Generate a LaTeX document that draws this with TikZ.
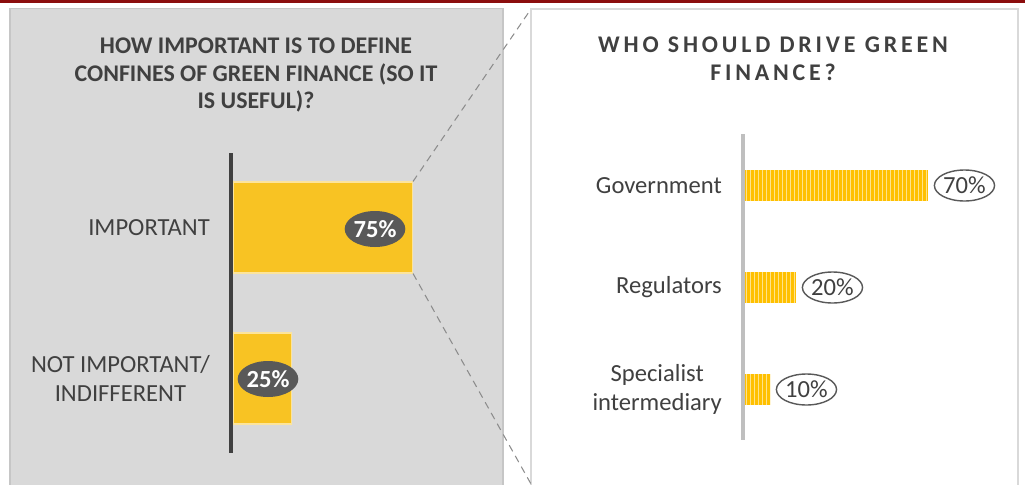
\documentclass[tikz,border=0pt]{standalone}
\usepackage{fontspec}
\setmainfont{Carlito}
\usepackage{tikz}
\usetikzlibrary{positioning, shapes.geometric, calc}
\definecolor{darkred}{HTML}{8B0D0D}
\definecolor{panelgray}{HTML}{D9D9D9}
\definecolor{edgegray}{HTML}{C6C6C6}
\definecolor{textgray}{HTML}{404040}
\definecolor{tagdark}{HTML}{595959}
\definecolor{bargold}{HTML}{F8C323}
\definecolor{baryellow}{HTML}{FFC000}
\definecolor{stripeyellow}{HTML}{FFE38A}
\definecolor{axisgray}{HTML}{BFBFBF}

\tikzset{
  txt/.style={font=\fontsize{14}{16.5}\selectfont, text=textgray},
  lbar/.style={fill=bargold, draw=bargold!45!white, line width=0.6pt,
    minimum height=1.82cm, inner sep=0pt, anchor=west},
  rbar/.style={fill=baryellow, minimum height=0.62cm, inner sep=0pt, anchor=west,
    path picture={\foreach \s in {0.03,0.11,...,4}
      \draw[stripeyellow, line width=0.5pt]
      ([xshift=\s cm]path picture bounding box.south west) --
      ([xshift=\s cm]path picture bounding box.north west);}},
  darktag/.style={ellipse, fill=tagdark, text=white,
    font=\fontsize{14}{16.5}\selectfont\bfseries,
    minimum width=1.16cm, minimum height=0.72cm, inner sep=0pt},
  opentag/.style={ellipse, draw=tagdark, line width=0.8pt, fill=white, txt,
    minimum width=1.04cm, minimum height=0.62cm, inner sep=0pt},
  zoomline/.style={draw=gray!90, dash pattern=on 4pt off 3pt, line width=0.6pt}
}

\begin{document}
\begin{tikzpicture}[x=0.02cm, y=-0.02cm]
    \useasboundingbox (0,0) rectangle (1025,484);
    \clip (0,0) rectangle (1025,484);

    % PANELS
    \fill[darkred] (0,0) rectangle (1025,2.5);
    \draw[fill=panelgray, draw=edgegray, line width=1pt] (10,8.5) rectangle (503,500);
    \draw[fill=white, draw=panelgray, line width=1.4pt] (531,9) rectangle (1018,500);
    \coordinate (rp-nw) at (531,9);
    \coordinate (rp-sw) at (531,484);

    % TITLES
    \node[txt, font=\fontsize{13.6}{15.9}\selectfont\bfseries, align=center] (ltitle)
        at (256,75) {HOW IMPORTANT IS TO DEFINE\\CONFINES OF GREEN FINANCE (SO IT\\IS USEFUL)?};
    \node[txt, font=\fontsize{13.6}{15.9}\selectfont\bfseries\addfontfeatures{LetterSpace=16},
        align=center] (rtitle) at (773,59) {WHO SHOULD DRIVE GREEN\\FINANCE?};

    % LEFT CHART
    \draw[textgray, line width=2.3pt] (231,153) -- (231,453);
    \node[lbar, minimum width=3.58cm] (imp) at (233,227.5) {};
    \node[lbar, minimum width=1.16cm] (notimp) at (233,378.5) {};
    \node[darktag] (imp-v) at (375,229) {75\%};
    \node[darktag] (notimp-v) at (268,379) {25\%};
    \node[txt, left=0.34cm of imp.west] (imp-l) {IMPORTANT};
    \node[txt, align=center, left=0.34cm of notimp.west] (notimp-l) {NOT IMPORTANT/\\INDIFFERENT};

    % RIGHT CHART
    \draw[axisgray, line width=2pt] (743,134) -- (743,440);
    \foreach \n/\y/\w/\v/\m in {
        gov/185.5/183/70/Government,
        reg/287.5/51/20/Regulators,
        spec/389.5/25/10/{Specialist\\intermediary}}
    {
        \node[rbar, minimum width=\w*0.02cm] (\n) at (745,\y) {};
        \node[opentag, right=0.1cm of \n] (\n-v) {\v\%};
        \node[txt, align=center, left=0.34cm of \n.west] (\n-l) {\m};
    }

    % ZOOM LINES
    \draw[zoomline] (imp.north east) -- (rp-nw);
    \draw[zoomline] (imp.south east) -- (rp-sw);
\end{tikzpicture}
\end{document}
